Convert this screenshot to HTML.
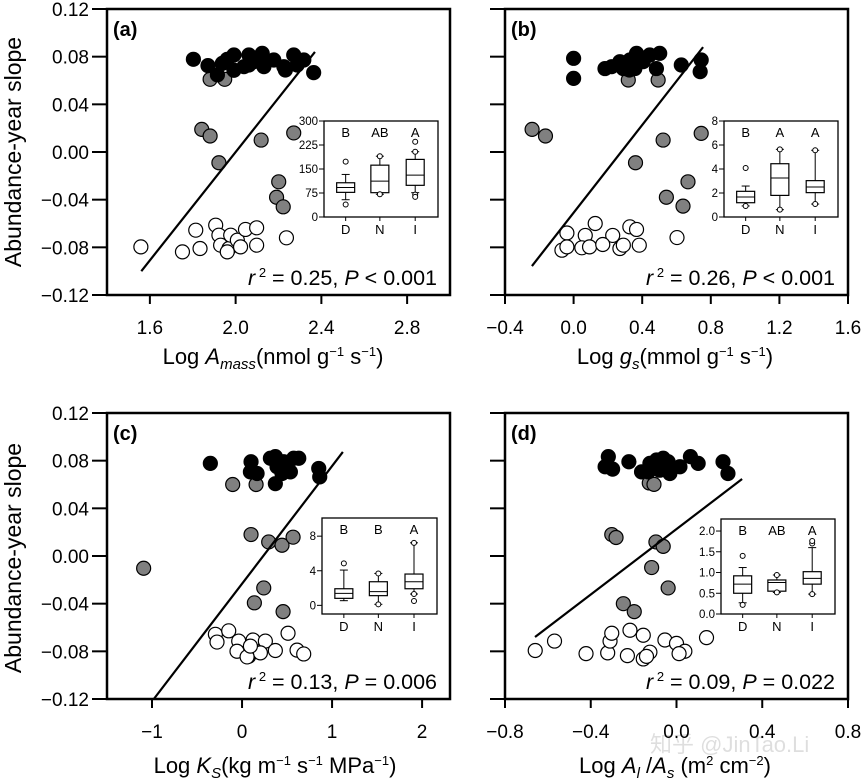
<!DOCTYPE html>
<html><head><meta charset="utf-8"><style>
body{margin:0;background:#fff}
svg{display:block;font-family:"Liberation Sans",Arial,sans-serif}
</style></head><body>
<svg id="s" width="861" height="783" viewBox="0 0 861 783" xmlns="http://www.w3.org/2000/svg">
<text x="21" y="152" font-size="23" text-anchor="middle" transform="rotate(-90 21 152)">Abundance-year slope</text>
<text x="21" y="558" font-size="23" text-anchor="middle" transform="rotate(-90 21 558)">Abundance-year slope</text>
<text x="273" y="364" font-size="22" text-anchor="middle">Log <tspan font-style="italic">A</tspan><tspan font-style="italic" font-size="15" dy="5">mass</tspan><tspan dy="-5">(nmol g</tspan><tspan font-size="13" dy="-8">−1</tspan><tspan dy="8"> s</tspan><tspan font-size="13" dy="-8">−1</tspan><tspan dy="8">)</tspan></text>
<text x="675" y="364" font-size="22" text-anchor="middle">Log <tspan font-style="italic">g</tspan><tspan font-style="italic" font-size="15" dy="5">s</tspan><tspan dy="-5">(mmol g</tspan><tspan font-size="13" dy="-8">−1</tspan><tspan dy="8"> s</tspan><tspan font-size="13" dy="-8">−1</tspan><tspan dy="8">)</tspan></text>
<text x="275" y="773" font-size="22" text-anchor="middle">Log <tspan font-style="italic">K</tspan><tspan font-style="italic" font-size="15" dy="5">S</tspan><tspan dy="-5">(kg m</tspan><tspan font-size="13" dy="-8">−1</tspan><tspan dy="8"> s</tspan><tspan font-size="13" dy="-8">−1</tspan><tspan dy="8"> MPa</tspan><tspan font-size="13" dy="-8">−1</tspan><tspan dy="8">)</tspan></text>
<text x="675" y="773" font-size="22" text-anchor="middle">Log <tspan font-style="italic">A</tspan><tspan font-style="italic" font-size="15" dy="5">l</tspan><tspan dy="-5"> /</tspan><tspan font-style="italic">A</tspan><tspan font-style="italic" font-size="15" dy="5">s</tspan><tspan dy="-5"> (m</tspan><tspan font-size="13" dy="-8">2</tspan><tspan dy="8"> cm</tspan><tspan font-size="13" dy="-8">−2</tspan><tspan dy="8">)</tspan></text>
<text x="650" y="752" font-size="22" fill="#000" fill-opacity="0.13" font-family="'Liberation Sans','Noto Sans CJK SC',sans-serif">知乎 @JinTao.Li</text>
</svg>
<script>
// ---- panel (a) data ----
const aBlackX=[1.803,1.871,1.915,1.961,1.992,1.992,2.062,2.062,2.124,2.132,2.178,2.225,2.232,2.271,2.287,2.318,2.364,2.085,2.039,1.938];
const aBlackY=[0.0778,0.0725,0.0647,0.0778,0.0814,0.0686,0.0814,0.073,0.0828,0.0716,0.0772,0.0716,0.0688,0.0814,0.073,0.0772,0.0666,0.0758,0.0716,0.0744];
const aGreyX=[1.881,1.949,1.842,1.881,1.922,2.119,2.271,2.201,2.191,2.222];
const aGreyY=[0.061,0.061,0.019,0.0134,-0.009,0.010,0.016,-0.025,-0.038,-0.046];
const aWhiteX=[1.558,1.814,1.834,1.752,1.907,1.922,1.930,1.969,1.977,2.008,2.023,2.046,2.098,2.098,2.237,1.961];
const aWhiteY=[-0.0796,-0.0656,-0.081,-0.0838,-0.0614,-0.0698,-0.0782,-0.081,-0.0698,-0.074,-0.0796,-0.065,-0.0636,-0.0782,-0.072,-0.0838];
const aLine=[1.56,-0.1,2.37,0.084];
// ---- panel (b) data ----
const bBlackX=[0,0,0.183,0.222,0.27,0.29,0.328,0.367,0.357,0.406,0.444,0.502,0.483,0.628,0.744,0.738,0.325];
const bBlackY=[0.0786,0.0618,0.070,0.0716,0.0758,0.070,0.0772,0.0828,0.070,0.0758,0.0814,0.0828,0.070,0.073,0.0772,0.0674,0.0688];
const bGreyX=[0.319,0.493,-0.242,-0.164,0.522,0.744,0.361,0.667,0.541,0.638];
const bGreyY=[0.0604,0.0604,0.019,0.0134,0.010,0.0156,-0.009,-0.025,-0.038,-0.0454];
const bWhiteX=[-0.039,0.126,0.068,0.228,0.328,0.367,-0.068,-0.039,0.048,0.093,0.17,0.27,0.29,0.383,0.603];
const bWhiteY=[-0.068,-0.060,-0.070,-0.070,-0.0628,-0.065,-0.0824,-0.0796,-0.0804,-0.0796,-0.0776,-0.081,-0.0782,-0.0782,-0.0718];
const bLine=[-0.243,-0.0957,0.755,0.088];
// ---- panel (c) data ----
const cBlackX=[-0.352,0.1,0.093,0.167,0.315,0.37,0.389,0.463,0.537,0.574,0.63,0.37,0.852,0.863,0.444];
const cBlackY=[0.0777,0.0791,0.0706,0.0692,0.082,0.0834,0.0749,0.0791,0.0706,0.082,0.082,0.0607,0.0735,0.0664,0.0692];
const cGreyX=[-0.104,0.156,-1.093,0.1,0.296,0.444,0.567,0.241,0.137,0.456];
const cGreyY=[0.060,0.060,-0.0103,0.018,0.0118,0.009,0.0158,-0.0268,-0.0393,-0.0467];
const cWhiteX=[-0.296,-0.148,-0.278,-0.037,0.122,0.259,0.511,-0.056,0.074,0.13,0.204,0.37,0.611,0.685,0.056,0.093];
const cWhiteY=[-0.0657,-0.0628,-0.0722,-0.0714,-0.0705,-0.0714,-0.0648,-0.0799,-0.0841,-0.0799,-0.0813,-0.0793,-0.079,-0.0822,-0.0847,-0.0756];
const cLine=[-0.98,-0.12,1.12,0.0873];
// ---- panel (d) data ----
const dBlackX=[-0.318,-0.333,-0.298,-0.222,-0.163,-0.124,-0.093,-0.062,-0.039,-0.031,0.016,0.065,0.101,0.217,0.24,-0.078,-0.132];
const dBlackY=[0.0834,0.0749,0.0729,0.0791,0.0706,0.0777,0.0806,0.082,0.0791,0.0692,0.0749,0.0834,0.0777,0.0791,0.0692,0.072,0.0706];
const dGreyX=[-0.127,-0.105,-0.302,-0.282,-0.096,-0.062,-0.116,-0.039,-0.248,-0.197];
const dGreyY=[0.0613,0.0601,0.018,0.0155,0.0118,0.0081,-0.0097,-0.0268,-0.040,-0.0467];
const dWhiteX=[-0.659,-0.569,-0.422,-0.321,-0.31,-0.302,-0.217,-0.229,-0.155,-0.155,-0.124,-0.054,0,0.039,0.012,0.14,-0.14];
const dWhiteY=[-0.0793,-0.0714,-0.0819,-0.0813,-0.0714,-0.0648,-0.0623,-0.0836,-0.0665,-0.0864,-0.0807,-0.0705,-0.0733,-0.0799,-0.0819,-0.0685,-0.0842];
const dLine=[-0.66,-0.068,0.306,0.0646];
// ---- tick labels ----
const yTicks=[-0.12,-0.08,-0.04,0.00,0.04,0.08,0.12];
const yTickLabels=["−0.12","−0.08","−0.04","0.00","0.04","0.08","0.12"];
const aXTicks=[1.6,2.0,2.4,2.8]; const aXLabels=["1.6","2.0","2.4","2.8"];
const bXTicks=[-0.4,0,0.4,0.8,1.2,1.6]; const bXLabels=["−0.4","0.0","0.4","0.8","1.2","1.6"];
const cXTicks=[-1,0,1,2]; const cXLabels=["−1","0","1","2"];
const dXTicks=[-0.8,-0.4,0,0.4,0.8]; const dXLabels=["−0.8","−0.4","0.0","0.4","0.8"];
// ---- inset boxplot data: [whiskLo, q1, median, q3, whiskHi] ----
const groups=["D","N","I"];
const aBoxes=[[54,77,92,107,133],[71,76,112,162,190],[76,99,131,180,204]];
const aOut=[[173,39],[190,71],[235,204,70,63]];
const aLetters=["B","AB","A"];
const aInTicks=[0,75,150,225,300];
const bBoxes=[[0.92,1.19,1.67,2.14,2.58],[0.61,1.8,3.25,4.44,5.64],[1.08,2.03,2.5,3.03,5.56]];
const bOut=[[4.08,0.92],[5.64,0.61],[5.56,1.08]];
const bLetters=["B","A","A"];
const bInTicks=[0,2,4,6,8];
const cBoxes=[[0.54,0.81,1.38,1.92,4.08],[0.12,1.12,1.58,2.73,3.69],[1.31,1.92,2.73,3.62,7.23]];
const cOut=[[4.85],[3.69,0.12],[7.23,1.31,0.5]];
const cLetters=["B","B","A"];
const cInTicks=[0,4,8];
const dBoxes=[[0.27,0.5,0.72,0.92,1.12],[0.52,0.55,0.76,0.82,0.94],[0.48,0.72,0.86,1.02,1.6]];
const dOut=[[1.4,0.22],[0.94,0.52],[1.7,1.76,0.48]];
const dLetters=["B","AB","A"];
const dInTicks=[0.0,0.5,1.0,1.5,2.0];

const NS="http://www.w3.org/2000/svg";
const svg=document.getElementById('s');
function mk(tag,at,parent){const e=document.createElementNS(NS,tag);for(const k in at)e.setAttribute(k,at[k]);(parent||svg).appendChild(e);return e;}

function panel(p){
  const g=mk('g',{});
  
  
  const sx=v=>p.L+(v-p.x0)/(p.x1-p.x0)*(p.R-p.L);
  const sy=v=>p.B-(v-(-0.12))/0.24*(p.B-p.T);
  yTicks.forEach((t,i)=>{
    const tk=mk('line',{x1:p.L-15,x2:p.L,y1:sy(t),y2:sy(t),stroke:'#000','stroke-width':2},g);
    
    
    if(p.ylab){
      const tx=mk('text',{x:p.L-18,y:sy(t)+7,'font-size':19,'text-anchor':'end'},g);
      tx.textContent=yTickLabels[i];
      
      
    }
  });
  p.xt.forEach((t,i)=>{
    const tk=mk('line',{x1:sx(t),x2:sx(t),y1:p.B,y2:p.B+9,stroke:'#000','stroke-width':2},g);
    
    
    const tx=mk('text',{x:sx(t),y:p.B+39,'font-size':19,'text-anchor':'middle'},g);
    tx.textContent=p.xl[i];
    
    
  });
  const fr=mk('rect',{x:p.L,y:p.T,width:p.R-p.L,height:p.B-p.T,fill:'none',stroke:'#000','stroke-width':2.5},g);
  
  
  const lb=mk('text',{x:p.L+6,y:p.T+27,'font-size':20,'font-weight':'bold'},g);
  lb.textContent='('+p.id+')';
  
  
  const sets=[[p.wx,p.wy,'#fff','white'],[p.gx,p.gy,'#808080','grey'],[p.bx,p.by,'#000','black']];
  sets.forEach(([X,Y,f,n])=>{
    X.forEach((v,i)=>{
      const c=mk('circle',{cx:sx(v),cy:sy(Y[i]),r:7,fill:f,stroke:'#000','stroke-width':1.2},g);
      
      
    });
  });
  const ln=mk('line',{x1:sx(p.line[0]),y1:sy(p.line[1]),x2:sx(p.line[2]),y2:sy(p.line[3]),stroke:'#000','stroke-width':2.2},g);
  
  
  const st=mk('text',{x:p.R-13,y:p.B-10,'font-size':21.5,'text-anchor':'end'},g);
  st.innerHTML='<tspan font-style="italic">r</tspan><tspan font-size="13" dy="-8"> 2</tspan><tspan dy="8"> = '+p.r2+', </tspan><tspan font-style="italic">P</tspan><tspan>'+p.pv+'</tspan>';
  
  
  const ig=mk('g',{},g);
  
  
  const I=p.inset;
  const iy=v=>I.B-(v-I.y0)/(I.y1-I.y0)*(I.B-I.T);
  const ibg=mk('rect',{x:I.L,y:I.T,width:I.R-I.L,height:I.B-I.T,fill:'#fff',stroke:'#000','stroke-width':1.3},ig);
  
  
  I.ticks.forEach(t=>{
    const tk=mk('line',{x1:I.L-5,x2:I.L,y1:iy(t),y2:iy(t),stroke:'#000','stroke-width':1},ig);
    
    
    const tx=mk('text',{x:I.L-6,y:iy(t)+4,'font-size':11.5,'text-anchor':'end'},ig);
    tx.textContent=(I.dec?t.toFixed(1):String(t));
    
    
  });
  const fr3=[0.19,0.49,0.8];
  groups.forEach((gname,i)=>{
    const cx=I.L+fr3[i]*(I.R-I.L);
    const b=I.boxes[i];const w=9;
    const bg=mk('g',{},ig);
    
    
    mk('line',{x1:cx,x2:cx,y1:iy(b[0]),y2:iy(b[4]),stroke:'#000','stroke-width':1},bg);
    mk('line',{x1:cx-4,x2:cx+4,y1:iy(b[0]),y2:iy(b[0]),stroke:'#000','stroke-width':1},bg);
    mk('line',{x1:cx-4,x2:cx+4,y1:iy(b[4]),y2:iy(b[4]),stroke:'#000','stroke-width':1},bg);
    mk('rect',{x:cx-w,y:iy(b[3]),width:2*w,height:iy(b[1])-iy(b[3]),fill:'#fff',stroke:'#000','stroke-width':1.2},bg);
    mk('line',{x1:cx-w,x2:cx+w,y1:iy(b[2]),y2:iy(b[2]),stroke:'#000','stroke-width':1},bg);
    I.out[i].forEach(o=>mk('circle',{cx:cx,cy:iy(o),r:2.5,fill:'#fff',stroke:'#000','stroke-width':1},bg));
    const lt=mk('text',{x:cx,y:I.T+16,'font-size':13,'text-anchor':'middle'},ig);
    lt.textContent=I.letters[i];
    
    
    mk('line',{x1:cx,x2:cx,y1:I.B,y2:I.B+4,stroke:'#000','stroke-width':1},ig);
    const ct=mk('text',{x:cx,y:I.B+17,'font-size':13,'text-anchor':'middle'},ig);
    ct.textContent=gname;
    
    
  });
}
panel({id:'a',L:107,R:450,T:9,B:295,x0:1.4,x1:3.0,ylab:true,xt:aXTicks,xl:aXLabels,
  bx:aBlackX,by:aBlackY,gx:aGreyX,gy:aGreyY,wx:aWhiteX,wy:aWhiteY,line:aLine,r2:'0.25',pv:' &lt; 0.001',
  inset:{L:324,R:438,T:121,B:217,y0:0,y1:300,ticks:aInTicks,boxes:aBoxes,out:aOut,letters:aLetters}});
panel({id:'b',L:505,R:848,T:9,B:295,x0:-0.4,x1:1.6,ylab:false,xt:bXTicks,xl:bXLabels,
  bx:bBlackX,by:bBlackY,gx:bGreyX,gy:bGreyY,wx:bWhiteX,wy:bWhiteY,line:bLine,r2:'0.26',pv:' &lt; 0.001',
  inset:{L:724,R:838,T:121,B:217,y0:0,y1:8,ticks:bInTicks,boxes:bBoxes,out:bOut,letters:bLetters}});
panel({id:'c',L:107,R:450,T:413,B:699,x0:-1.5,x1:2.31,ylab:true,xt:cXTicks,xl:cXLabels,
  bx:cBlackX,by:cBlackY,gx:cGreyX,gy:cGreyY,wx:cWhiteX,wy:cWhiteY,line:cLine,r2:'0.13',pv:' = 0.006',
  inset:{L:322,R:437,T:518,B:614,y0:-1,y1:10.1,ticks:cInTicks,boxes:cBoxes,out:cOut,letters:cLetters}});
panel({id:'d',L:505,R:848,T:413,B:699,x0:-0.8,x1:0.8,ylab:false,xt:dXTicks,xl:dXLabels,
  bx:dBlackX,by:dBlackY,gx:dGreyX,gy:dGreyY,wx:dWhiteX,wy:dWhiteY,line:dLine,r2:'0.09',pv:' = 0.022',
  inset:{L:721,R:835,T:519,B:614,y0:0,y1:2.29,dec:true,ticks:dInTicks,boxes:dBoxes,out:dOut,letters:dLetters}});
</script>
</body></html>
